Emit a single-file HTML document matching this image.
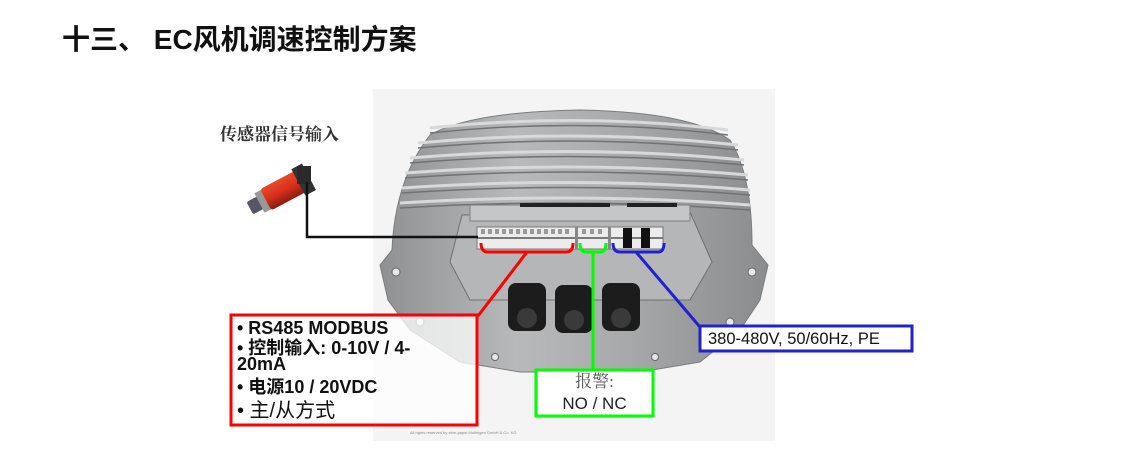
<!DOCTYPE html>
<html><head><meta charset="utf-8"><style>
body{margin:0;width:1131px;height:466px;background:#fff;overflow:hidden;position:relative;font-family:"Liberation Sans","Noto Sans CJK SC",sans-serif}
.t{position:absolute;white-space:nowrap}
</style></head><body>
<div class="t" style="left:62px;top:18px;font-size:28px;font-weight:bold;color:#111">十三、 EC风机调速控制方案</div>
<svg width="1131" height="466" style="position:absolute;left:0;top:0">
<defs>
<linearGradient id="hg" x1="0" y1="0" x2="1" y2="0"><stop offset="0" stop-color="#8e9092"/><stop offset="0.35" stop-color="#b7b9bb"/><stop offset="0.6" stop-color="#a9abad"/><stop offset="1" stop-color="#8a8c8e"/></linearGradient>
<linearGradient id="rg" x1="0" y1="0" x2="0" y2="1"><stop offset="0" stop-color="#e84a2a"/><stop offset="0.5" stop-color="#d8301c"/><stop offset="1" stop-color="#8a1c10"/></linearGradient>
</defs>
<rect x="373" y="89" width="402" height="352" fill="#f4f4f4"/>
<path d="M392 250 Q395 180 430 135 Q470 112 580 110 Q690 112 730 140 Q752 175 752 245 L768 265 L760 300 L740 330 L700 362 L640 372 L520 372 L460 362 L410 330 L388 300 L380 265 Z" fill="url(#hg)" stroke="#7a7c7e" stroke-width="1"/>
<g stroke="#d8d9da" stroke-width="3" fill="none">
<path d="M430 128 Q580 112 728 130"/><path d="M418 143 Q580 128 738 145"/><path d="M410 158 Q580 144 744 160"/><path d="M405 173 Q580 160 748 175"/><path d="M402 188 Q580 176 750 190"/><path d="M400 203 Q580 192 750 205"/>
</g>
<g stroke="#707274" stroke-width="1.5" fill="none">
<path d="M430 133 Q580 117 728 135"/><path d="M418 148 Q580 133 738 150"/><path d="M410 163 Q580 149 744 165"/><path d="M405 178 Q580 165 748 180"/><path d="M402 193 Q580 181 750 195"/><path d="M400 208 Q580 197 750 210"/>
</g>
<g fill="#e8e8e8" stroke="#666"><circle cx="396" cy="272" r="4"/><circle cx="752" cy="272" r="4"/><circle cx="420" cy="322" r="4"/><circle cx="730" cy="322" r="4"/><circle cx="495" cy="357" r="3.5"/><circle cx="655" cy="357" r="3.5"/></g>
<path d="M462 215 L690 212 L712 262 L690 300 L470 300 L450 262 Z" fill="#b4b6b8" stroke="#6e7072"/>
<rect x="470" y="205" width="220" height="16" fill="#c4c6c7" stroke="#7a7c7e"/>
<rect x="520" y="203" width="90" height="4" fill="#222"/>
<rect x="627" y="203" width="50" height="4" fill="#222"/>
<rect x="477" y="227" width="186" height="22" fill="#ececec" stroke="#777"/>
<g fill="#999">
<rect x="481" y="229" width="4" height="5"/><rect x="488" y="229" width="4" height="5"/><rect x="495" y="229" width="4" height="5"/><rect x="502" y="229" width="4" height="5"/><rect x="509" y="229" width="4" height="5"/><rect x="516" y="229" width="4" height="5"/><rect x="523" y="229" width="4" height="5"/><rect x="530" y="229" width="4" height="5"/><rect x="537" y="229" width="4" height="5"/><rect x="544" y="229" width="4" height="5"/><rect x="551" y="229" width="4" height="5"/><rect x="558" y="229" width="4" height="5"/><rect x="565" y="229" width="4" height="5"/><rect x="582" y="229" width="4" height="5"/><rect x="590" y="229" width="4" height="5"/><rect x="598" y="229" width="4" height="5"/>
</g>
<line x1="477" y1="238" x2="663" y2="238" stroke="#555" stroke-width="1.5"/>
<rect x="575" y="227" width="3" height="22" fill="#888"/><rect x="608" y="227" width="3" height="22" fill="#888"/>
<rect x="623" y="228" width="9" height="20" fill="#111"/><rect x="641" y="228" width="9" height="20" fill="#111"/>
<g fill="#1c1c1c"><rect x="508" y="283" width="38" height="48" rx="8"/><rect x="555" y="285" width="38" height="48" rx="8"/><rect x="602" y="283" width="38" height="48" rx="8"/></g>
<g fill="#3a3a3a"><circle cx="527" cy="318" r="10"/><circle cx="574" cy="320" r="10"/><circle cx="621" cy="318" r="10"/></g>
<g transform="rotate(-28 282 190)">
<rect x="245" y="184" width="14" height="14" fill="#556" rx="2"/>
<rect x="256" y="180" width="8" height="22" fill="#999"/>
<rect x="263" y="179" width="40" height="24" fill="url(#rg)" rx="3"/>
<rect x="300" y="176" width="12" height="30" fill="#333"/>
</g>
<rect x="297" y="166" width="14" height="18" fill="#2a2a2a"/>
<polyline points="307,182 307,237 478,237" fill="none" stroke="#111" stroke-width="2.5"/>
<path d="M481 243 Q481 252 488 252 L566 252 Q573 252 573 243" fill="none" stroke="#f00" stroke-width="3"/>
<line x1="527" y1="252" x2="478" y2="316" stroke="#f00" stroke-width="3"/>
<path d="M580 243 Q580 252 586 252 L600 252 Q606 252 606 243" fill="none" stroke="#0f0" stroke-width="3"/>
<line x1="593" y1="252" x2="593" y2="369" stroke="#0f0" stroke-width="3"/>
<path d="M613 243 Q613 252 620 252 L658 252 Q664 252 664 243" fill="none" stroke="#22c" stroke-width="3"/>
<line x1="636" y1="252" x2="700" y2="327" stroke="#22c" stroke-width="3"/>
<rect x="231" y="315" width="246" height="110" fill="#fff" fill-opacity="0.75" stroke="#f00" stroke-width="3"/>
<rect x="536" y="370" width="117" height="46" fill="#fff" stroke="#0f0" stroke-width="3"/>
<rect x="700" y="326" width="212" height="25" fill="#fff" stroke="#22c" stroke-width="3"/>
<text x="410" y="434" font-size="4" fill="#888" font-family="Liberation Sans">All rights reserved by ebm-papst Mulfingen GmbH &amp; Co. KG</text>
</svg>
<div class="t" style="left:220px;top:120px;font-size:17px;font-weight:bold;color:#333;font-family:'Liberation Serif','Noto Serif CJK SC',serif">传感器信号输入</div>
<div class="t" style="left:237px;top:318px;font-size:18px;font-weight:bold;line-height:20px;color:#111">• RS485 MODBUS</div>
<div class="t" style="left:237px;top:340px;font-size:18px;font-weight:bold;line-height:16px;color:#111">• 控制输入: 0-10V / 4-<br>20mA</div>
<div class="t" style="left:237px;top:377px;font-size:18px;font-weight:bold;line-height:20px;color:#111">• 电源10 / 20VDC</div>
<div class="t" style="left:237px;top:400px;font-size:20px;line-height:22px;color:#111">• 主/从方式</div>
<div class="t" style="left:536px;top:371px;width:117px;text-align:center;font-size:17px;line-height:22px;color:#222"><span style="font-family:'Liberation Serif','Noto Serif CJK SC',serif;color:#555">报警:</span><br>NO / NC</div>
<div class="t" style="left:708px;top:329px;font-size:16.5px;line-height:20px;color:#111">380-480V, 50/60Hz, PE</div>
</body></html>
